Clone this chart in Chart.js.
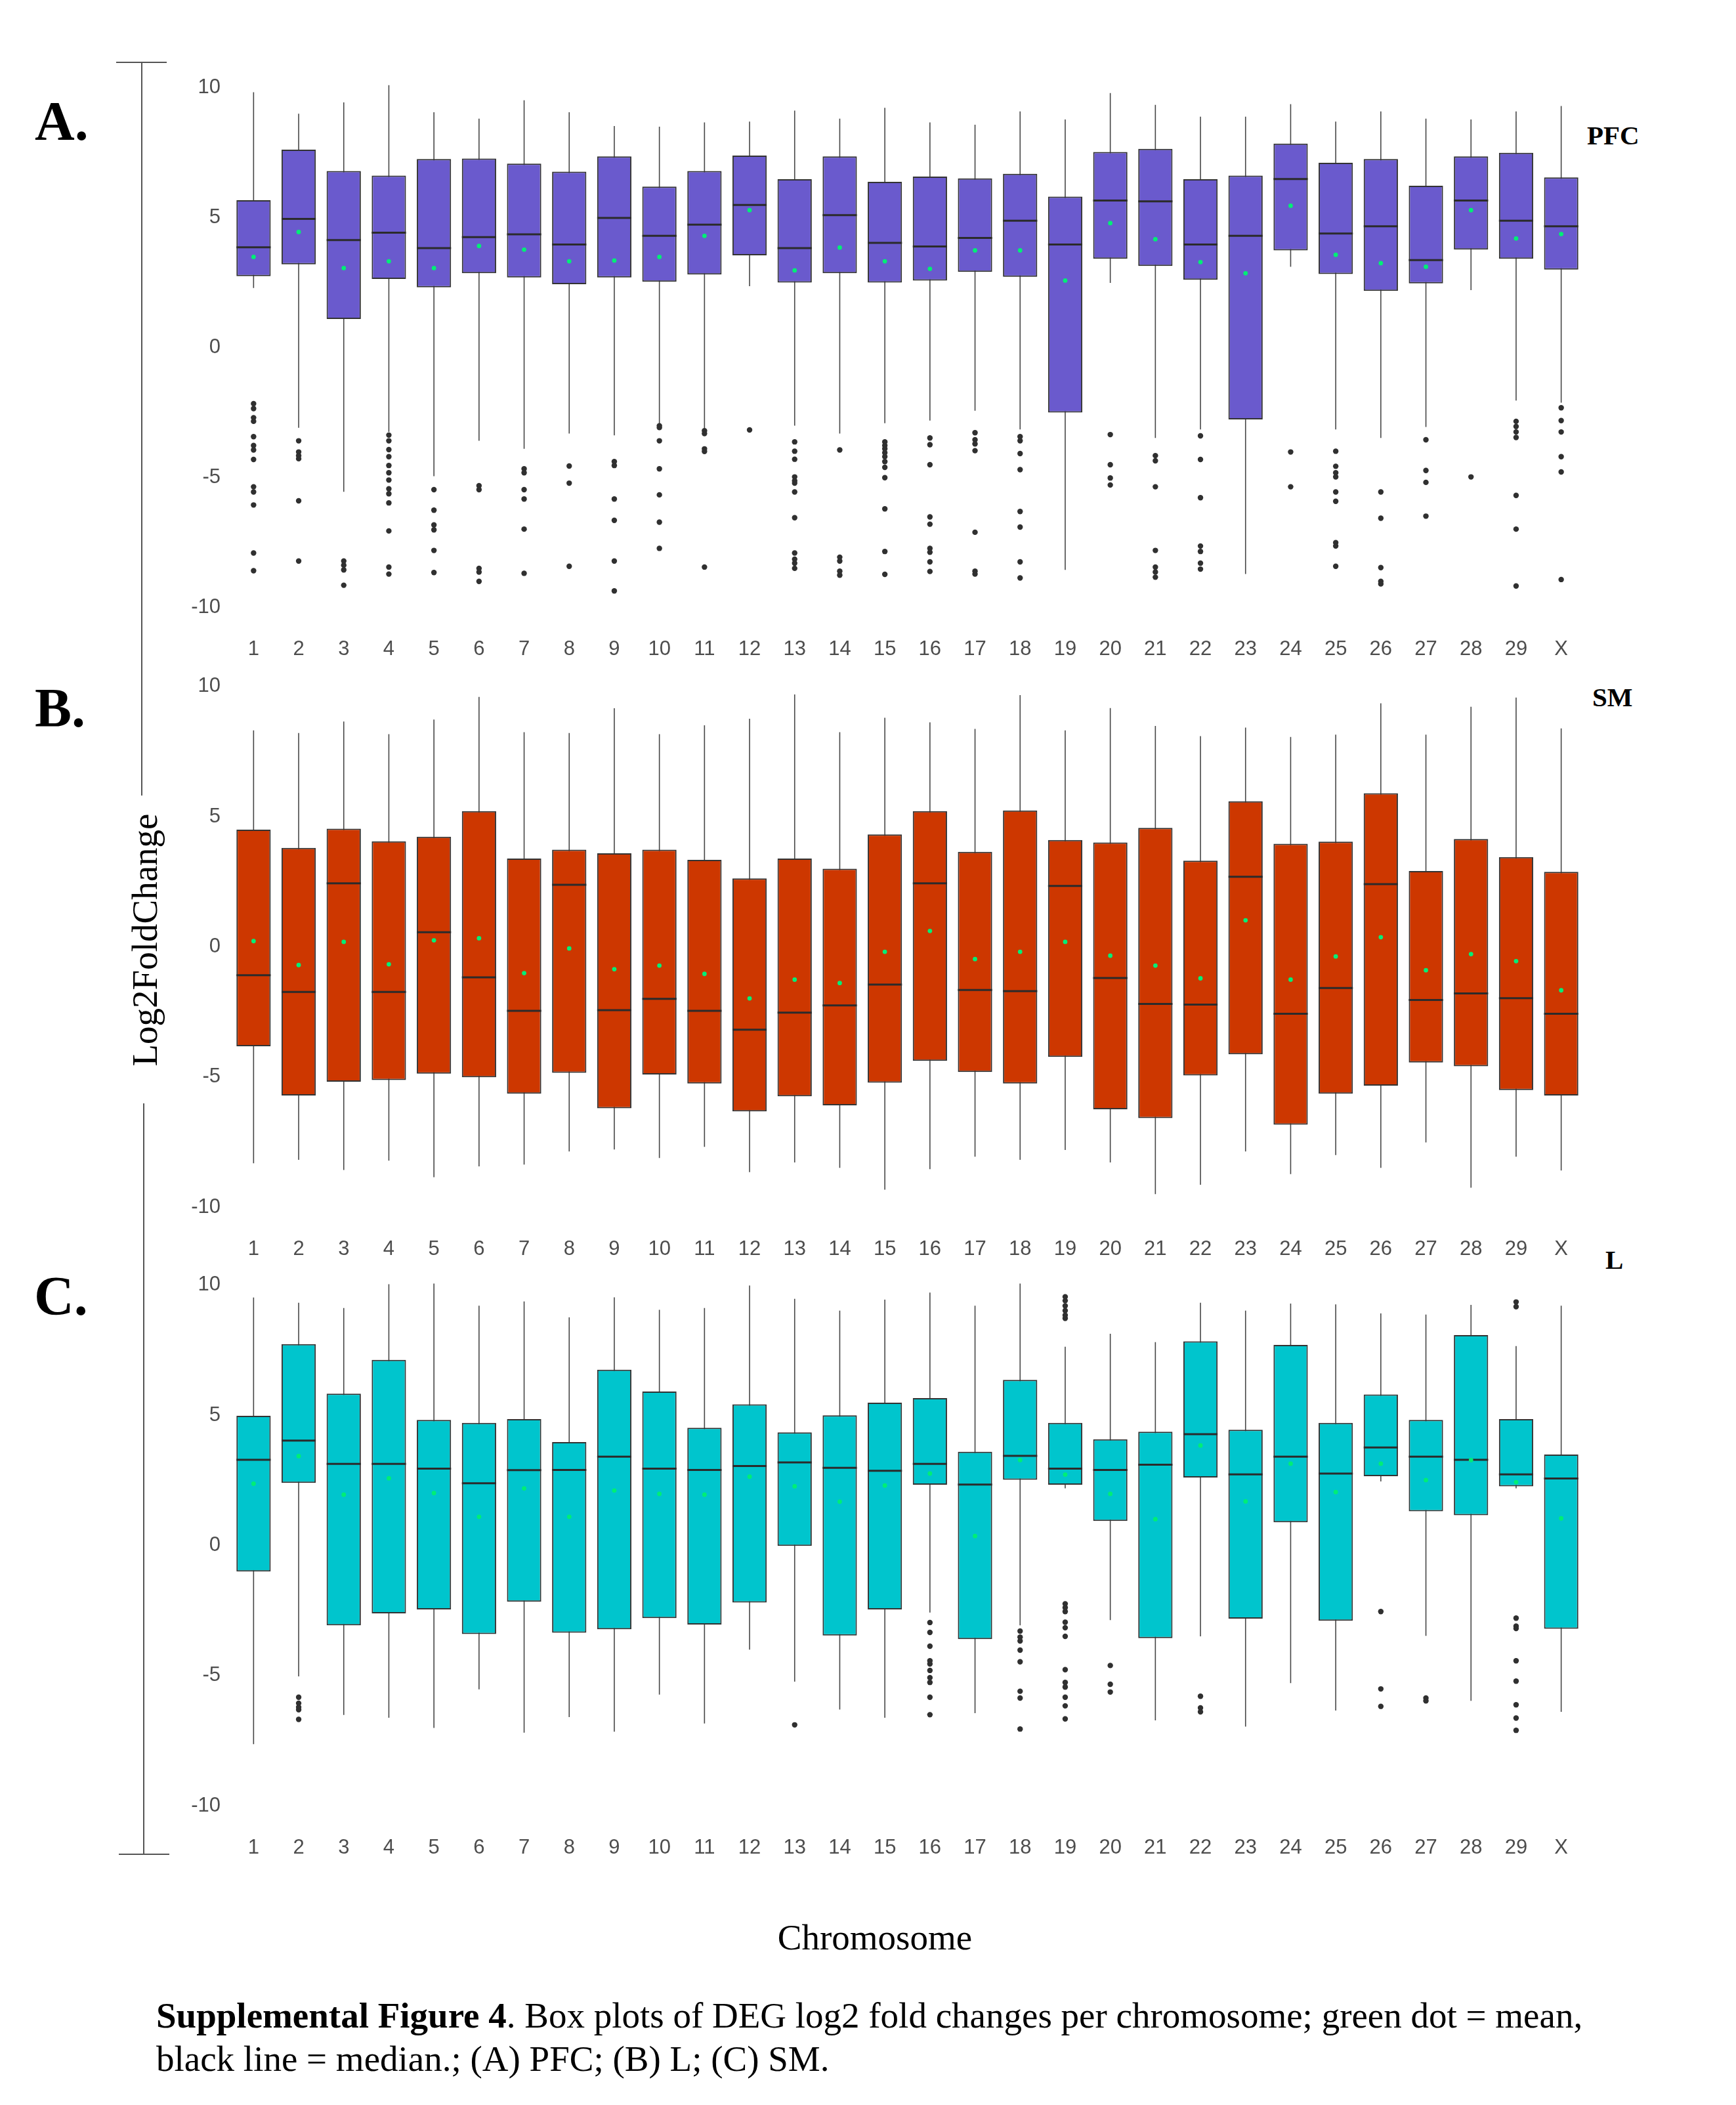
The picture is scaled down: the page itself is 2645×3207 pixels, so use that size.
<!DOCTYPE html>
<html>
<head>
<meta charset="utf-8">
<script src="https://cdn.jsdelivr.net/npm/chart.js@4.4.1/dist/chart.umd.min.js"></script>
<style>
html, body { margin: 0; padding: 0; background: #fff; }
body { width: 2645px; height: 3207px; position: relative; overflow: hidden; }
canvas { position: absolute; left: 0; }
.lbl { position: absolute; font-family: 'Liberation Serif', 'Times New Roman', serif; color: #000; line-height: 1; white-space: nowrap; }
.seg { position: absolute; background: #555; }
</style>
</head>
<body>

<!-- panel letters and tissue names -->
<div class="lbl" style="left:53px; top:143px; font-size:84px; font-weight:bold;">A.</div>
<div class="lbl" style="left:53px; top:1037px; font-size:84px; font-weight:bold;">B.</div>
<div class="lbl" style="left:52px; top:1933px; font-size:84px; font-weight:bold;">C.</div>
<div class="lbl" style="left:2418px; top:186px; font-size:41px; font-weight:bold;">PFC</div>
<div class="lbl" style="left:2426px; top:1042px; font-size:41px; font-weight:bold;">SM</div>
<div class="lbl" style="left:2446px; top:1899px; font-size:41px; font-weight:bold;">L</div>

<!-- y axis bracket -->
<div class="seg" style="left:177px; top:94px; width:77px; height:2px;"></div>
<div class="seg" style="left:215px; top:94px; width:2px; height:1118px;"></div>
<div class="seg" style="left:218px; top:1681px; width:2px; height:1144px;"></div>
<div class="seg" style="left:181px; top:2824px; width:77px; height:2px;"></div>
<div class="lbl" style="left:220px; top:1432px; font-size:55px; transform:translate(-50%,-50%) rotate(-90deg);">Log2FoldChange</div>

<div class="lbl" style="left:1333px; top:2924px; font-size:55px; transform:translateX(-50%);">Chromosome</div>
<div class="lbl" style="left:238px; top:3038px; font-size:55px; line-height:66px;"><b>Supplemental Figure 4</b>. Box plots of DEG log2 fold changes per chromosome; green dot = mean,<br>black line = median.; (A) PFC; (B) L; (C) SM.</div>

<canvas id="chartA"></canvas>
<canvas id="chartB"></canvas>
<canvas id="chartC"></canvas>

<script>
//chromosome names on the x axis
var chromosomes = ['1','2','3','4','5','6','7','8','9','10','11','12','13','14','15','16','17','18','19','20','21','22','23','24','25','26','27','28','29','X'];
//y axis tick values
var yTicks = [-10, -5, 0, 5, 10];

//PFC (panel A)
var pfcQ1 = [2.75,3.2,1.1,2.64,2.32,2.86,2.7,2.44,2.7,2.53,2.81,3.55,2.5,2.86,2.5,2.58,2.91,2.72,-2.5,3.42,3.14,2.61,-2.77,3.74,2.83,2.18,2.47,3.77,3.42,3.0];
var pfcMedian = [3.86,4.95,4.14,4.42,3.83,4.25,4.36,3.97,4.99,4.3,4.73,5.49,3.83,5.1,4.03,3.89,4.22,4.88,3.97,5.66,5.63,3.97,4.3,6.49,4.39,4.67,3.37,5.66,4.88,4.67];
var pfcQ3 = [5.67,7.62,6.8,6.62,7.26,7.28,7.08,6.77,7.36,6.2,6.8,7.39,6.48,7.36,6.38,6.58,6.51,6.69,5.81,7.53,7.65,6.48,6.62,7.85,7.11,7.26,6.23,7.36,7.5,6.55];
var pfcLow = [2.29,-3.09,-5.55,-3.25,-4.95,-3.59,-3.9,-3.31,-3.38,-2.97,-3.12,2.36,-3.01,-3.31,-2.91,-2.81,-2.43,-3.15,-8.56,2.49,-3.48,-3.15,-8.72,3.11,-3.15,-3.48,-3.06,2.21,-2.04,-2.12];
var pfcHigh = [9.83,9.0,9.44,10.1,9.06,8.81,9.52,9.06,8.53,8.5,8.67,8.7,9.12,8.81,9.23,8.67,8.58,9.09,8.78,9.8,9.34,8.89,8.89,9.37,8.7,9.09,8.81,8.78,9.09,9.3];
var pfcMean = [3.49,4.45,3.06,3.32,3.06,3.91,3.77,3.32,3.35,3.49,4.3,5.29,2.97,3.85,3.32,3.03,3.74,3.74,2.58,4.79,4.17,3.29,2.86,5.46,3.57,3.25,3.11,5.29,4.2,4.37];
var pfcOutliers = [
    [-2.16,-2.35,-2.7,-2.84,-3.43,-3.77,-3.94,-4.31,-5.36,-5.56,-6.06,-7.91,-8.59],
    [-3.59,-4.02,-4.16,-4.28,-5.9,-8.22],
    [-8.22,-8.38,-8.56,-9.15],
    [-3.37,-3.59,-3.93,-4.2,-4.54,-4.82,-5.1,-5.44,-5.63,-5.98,-7.06,-8.45,-8.72],
    [-5.47,-6.26,-6.83,-7.02,-7.81,-8.66],
    [-5.32,-5.47,-8.5,-8.64,-9.0],
    [-4.67,-4.82,-5.47,-5.83,-6.99,-8.69],
    [-4.56,-5.22,-8.42],
    [-4.39,-4.54,-5.83,-6.65,-8.22,-9.37],
    [-3.01,-3.08,-3.59,-4.67,-5.67,-6.72,-7.73],
    [-3.2,-3.31,-3.9,-4.0,-8.45],
    [-3.17],
    [-3.63,-3.99,-4.3,-4.98,-5.13,-5.22,-5.56,-6.55,-7.91,-8.15,-8.3,-8.5],
    [-3.94,-8.07,-8.22,-8.61,-8.76],
    [-3.63,-3.77,-3.9,-4.05,-4.2,-4.39,-4.61,-5.01,-6.21,-7.85,-8.73],
    [-3.48,-3.74,-4.51,-6.52,-6.8,-7.73,-7.88,-8.25,-8.62],
    [-3.28,-3.55,-3.71,-3.97,-7.11,-8.61,-8.72],
    [-3.43,-3.59,-4.08,-4.7,-6.31,-6.91,-8.25,-8.87],
    [],
    [-3.35,-4.51,-5.02,-5.29],
    [-4.16,-4.36,-5.36,-7.81,-8.45,-8.64,-8.84],
    [-3.4,-4.31,-5.78,-7.64,-7.85,-8.3,-8.53],
    [],
    [-4.02,-5.36],
    [-3.99,-4.57,-4.82,-4.98,-5.56,-5.92,-7.51,-7.64,-8.42],
    [-5.56,-6.57,-8.47,-9.0,-9.1],
    [-3.55,-4.73,-5.19,-6.49],
    [-4.98],
    [-2.84,-3.04,-3.25,-3.46,-5.69,-6.99,-9.18],
    [-2.32,-2.81,-3.25,-4.2,-4.79,-8.93]
];

//SM (panel B)
var smQ1 = [-3.82,-5.71,-5.18,-5.12,-4.87,-5.01,-5.64,-4.84,-6.2,-4.9,-5.25,-6.32,-5.74,-6.09,-5.22,-4.38,-4.81,-5.25,-4.23,-6.24,-6.58,-4.94,-4.13,-6.83,-5.64,-5.33,-4.44,-4.59,-5.5,-5.71];
var smMedian = [-1.09,-1.73,2.44,-1.73,0.56,-1.17,-2.46,2.38,-2.43,-2.0,-2.46,-3.18,-2.53,-2.25,-1.45,2.44,-1.66,-1.7,2.34,-1.2,-2.19,-2.22,2.69,-2.57,-1.58,2.41,-2.04,-1.79,-1.97,-2.57];
var smQ3 = [4.5,3.8,4.54,4.05,4.23,5.21,3.39,3.73,3.59,3.73,3.34,2.63,3.39,3.0,4.32,5.21,3.65,5.24,4.1,4.01,4.57,3.31,5.59,3.96,4.04,5.9,2.91,4.14,3.45,2.88];
var smLow = [-8.31,-8.18,-8.57,-8.21,-8.85,-8.43,-8.36,-7.86,-7.78,-8.11,-7.68,-8.65,-8.28,-8.49,-9.33,-8.54,-8.06,-8.18,-7.8,-8.28,-9.5,-9.14,-7.86,-8.73,-8.0,-8.49,-7.51,-9.25,-8.06,-8.59];
var smHigh = [8.31,8.21,8.65,8.17,8.73,9.6,8.24,8.21,9.16,8.17,8.51,8.76,9.69,8.24,8.8,8.62,8.37,9.67,8.31,9.17,8.48,8.09,8.42,8.06,8.15,9.35,8.15,9.22,9.57,8.39];
var smMean = [0.22,-0.7,0.19,-0.67,0.25,0.33,-1.01,-0.06,-0.86,-0.72,-1.04,-1.98,-1.26,-1.39,-0.19,0.61,-0.47,-0.19,0.19,-0.34,-0.72,-1.21,1.02,-1.26,-0.37,0.37,-0.9,-0.28,-0.55,-1.67];
var smOutliers = [];

//L (panel C)
var lQ1 = [-1.0,2.4,-3.07,-2.61,-2.46,-3.4,-2.16,-3.35,-3.22,-2.79,-3.04,-2.19,-0.02,-3.46,-2.46,2.33,-3.6,2.52,2.33,0.94,-3.56,2.61,-2.81,0.89,-2.89,2.66,1.31,1.16,2.27,-3.2];
var lMedian = [3.29,4.03,3.13,3.13,2.95,2.39,2.89,2.9,3.41,2.95,2.9,3.05,3.19,2.98,2.87,3.13,2.34,3.44,2.95,2.9,3.1,4.27,2.73,3.41,2.76,3.76,3.41,3.29,2.73,2.57];
var lQ3 = [4.98,7.73,5.83,7.13,4.82,4.71,4.85,3.97,6.75,5.91,4.52,5.42,4.34,5.0,5.48,5.66,3.6,6.36,4.71,4.08,4.37,7.84,4.44,7.7,4.71,5.8,4.82,8.08,4.85,3.49];
var lLow = [-7.63,-5.03,-6.51,-6.62,-7.01,-5.53,-7.19,-6.59,-7.15,-5.73,-6.84,-4.0,-5.23,-6.3,-6.62,-2.58,-6.44,-3.07,2.19,-2.87,-6.72,-3.49,-6.96,-5.29,-6.34,2.46,-3.47,-5.97,2.19,-6.39];
var lHigh = [9.52,9.32,9.12,10.03,10.06,9.21,9.37,8.76,9.53,9.05,9.12,9.98,9.47,9.02,9.44,9.71,9.21,10.06,7.63,8.13,7.81,9.32,9.02,9.29,9.26,8.91,8.87,9.24,7.66,9.21];
var lMean = [2.37,3.43,1.95,2.58,2.01,1.1,2.19,1.1,2.11,1.98,1.95,2.64,2.27,1.68,2.3,2.76,0.36,3.28,2.72,1.98,1.01,3.84,1.69,3.14,2.05,3.14,2.51,3.28,2.43,1.04];
var lOutliers = [
    [],
    [-5.83,-6.06,-6.21,-6.31,-6.68],
    [], [], [], [], [], [], [], [], [], [],
    [-6.89],
    [], [],
    [-2.96,-3.34,-3.87,-4.43,-4.55,-4.8,-5.08,-5.26,-5.83,-6.5],
    [],
    [-3.29,-3.52,-3.67,-4.02,-4.47,-5.6,-5.86,-7.05],
    [9.55,9.4,9.2,9.02,8.84,8.72,-2.24,-2.39,-2.54,-2.95,-3.16,-3.49,-4.77,-5.26,-5.44,-5.83,-6.16,-6.66],
    [-4.61,-5.33,-5.63],
    [],
    [-5.79,-6.24,-6.39],
    [], [], [],
    [-2.54,-5.51,-6.18],
    [-5.86,-5.97],
    [],
    [9.35,9.17,-2.79,-3.1,-3.19,-4.43,-5.21,-6.12,-6.63,-7.1],
    []
];

var yMin = -10.6;
var yMax = 10.6;

//draws whiskers under the boxes and medians over them
var boxParts = {
    id: 'boxParts',
    beforeDatasetDraw: function(chart, args) {
        if (args.index !== 0) return;
        var ds = chart.data.datasets[0];
        var y = chart.scales.y;
        var ctx = chart.ctx;
        ctx.save();
        ctx.strokeStyle = '#474747';
        ctx.lineWidth = 1.6;
        args.meta.data.forEach(function(bar, i) {
            ctx.beginPath();
            ctx.moveTo(bar.x, y.getPixelForValue(ds.whiskerLow[i]));
            ctx.lineTo(bar.x, y.getPixelForValue(ds.whiskerHigh[i]));
            ctx.stroke();
        });
        ctx.restore();
    },
    afterDatasetDraw: function(chart, args) {
        if (args.index !== 0) return;
        var ds = chart.data.datasets[0];
        var y = chart.scales.y;
        var ctx = chart.ctx;
        ctx.save();
        ctx.strokeStyle = '#2b2b2b';
        ctx.lineWidth = 3;
        args.meta.data.forEach(function(bar, i) {
            var py = y.getPixelForValue(ds.median[i]);
            ctx.beginPath();
            ctx.moveTo(bar.x - bar.width / 2, py);
            ctx.lineTo(bar.x + bar.width / 2, py);
            ctx.stroke();
        });
        ctx.restore();
    }
};

//turns the outlier lists into scatter points
function outlierPoints(lists) {
    var points = [];
    lists.forEach(function(list, i) {
        list.forEach(function(v) {
            points.push({x: chromosomes[i], y: v});
        });
    });
    return points;
}

//builds one panel; y10 and yNeg10 are the pixel rows of the 10 and -10 ticks
function drawPanel(id, color, q1, median, q3, low, high, mean, outliers, y10, yNeg10) {
    var pxPerUnit = (yNeg10 - y10) / 20;
    //top padding must be larger than the room chart.js keeps for the top y label
    var padTop = 42;
    var xAxisHeight = 64;
    var areaHeight = Math.round((yMax - yMin) * pxPerUnit);
    var canvas = document.getElementById(id);
    canvas.width = 2645;
    canvas.height = padTop + areaHeight + xAxisHeight;
    canvas.style.top = (y10 - (yMax - 10) * pxPerUnit - padTop) + 'px';

    var tickFont = {family: "'Liberation Sans', Arial, sans-serif", size: 31};

    new Chart(canvas.getContext('2d'), {
        type: 'bar',
        data: {
            labels: chromosomes,
            datasets: [{
                type: 'bar',
                data: q1.map(function(v, i) { return [v, q3[i]]; }),
                median: median,
                whiskerLow: low,
                whiskerHigh: high,
                backgroundColor: color,
                borderColor: '#333333',
                borderWidth: 2,
                borderSkipped: false,
                categoryPercentage: 1,
                barPercentage: 0.76,
                order: 2
            }, {
                type: 'scatter',
                data: outlierPoints(outliers),
                pointRadius: 4.2,
                pointBackgroundColor: '#303030',
                pointBorderWidth: 0,
                order: 1
            }, {
                type: 'scatter',
                data: mean.map(function(v, i) { return {x: chromosomes[i], y: v}; }),
                pointRadius: 3.4,
                pointBackgroundColor: '#00EE76',
                pointBorderWidth: 0,
                order: 0
            }]
        },
        options: {
            responsive: false,
            devicePixelRatio: 1,
            animation: false,
            events: [],
            layout: {padding: {left: 0, right: 232, top: padTop, bottom: 0}},
            plugins: {legend: {display: false}, tooltip: {enabled: false}},
            scales: {
                x: {
                    type: 'category',
                    offset: true,
                    grid: {display: false, drawTicks: false},
                    border: {display: false},
                    ticks: {font: tickFont, color: '#4D4D4D', padding: 22, maxRotation: 0, autoSkip: false},
                    afterFit: function(scale) { scale.height = xAxisHeight; }
                },
                y: {
                    min: yMin,
                    max: yMax,
                    grid: {display: false, drawTicks: false},
                    border: {display: false},
                    ticks: {font: tickFont, color: '#4D4D4D', padding: 16},
                    afterBuildTicks: function(scale) {
                        scale.ticks = yTicks.map(function(v) { return {value: v}; });
                    },
                    afterFit: function(scale) { scale.width = 352; }
                }
            }
        },
        plugins: [boxParts]
    });
}

drawPanel('chartA', '#6A5ACD', pfcQ1, pfcMedian, pfcQ3, pfcLow, pfcHigh, pfcMean, pfcOutliers, 133.5, 925);
drawPanel('chartB', '#CD3700', smQ1, smMedian, smQ3, smLow, smHigh, smMean, smOutliers, 1046, 1839);
drawPanel('chartC', '#00C5CD', lQ1, lMedian, lQ3, lLow, lHigh, lMean, lOutliers, 1957.6, 2751);
</script>
</body>
</html>
